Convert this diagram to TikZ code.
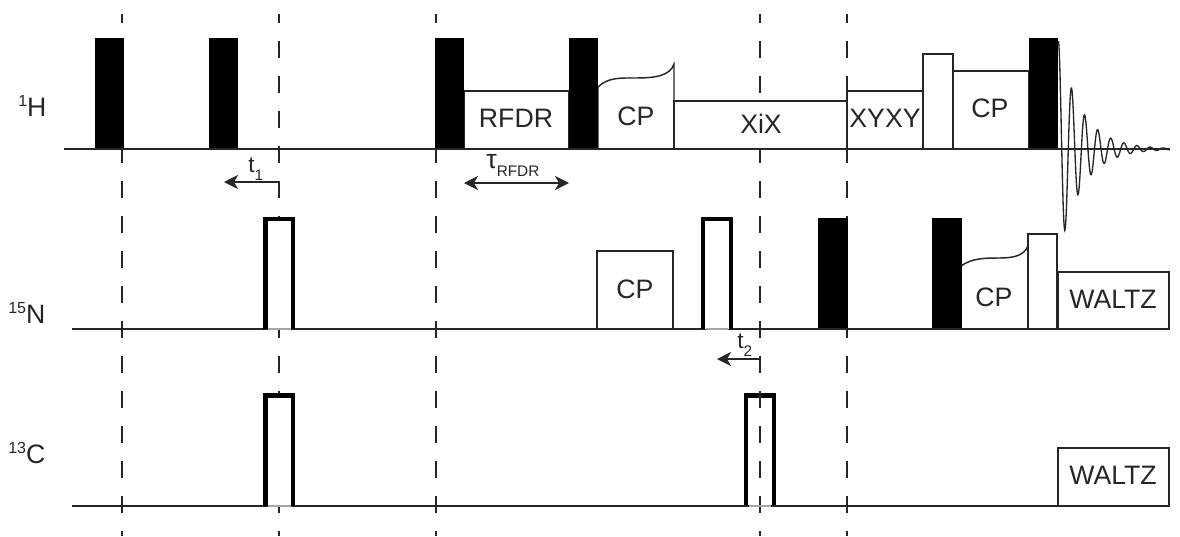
\documentclass[tikz,border=0pt]{standalone}
\usepackage{fontspec}
\setmainfont{Liberation Sans}
\usetikzlibrary{arrows.meta}
\definecolor{inkgray}{gray}{0.15}
\newcommand{\sublab}[1]{\raisebox{-6.5pt}{\fontsize{11.5}{11.5}\selectfont #1}}
\newcommand{\suplab}[1]{\raisebox{7.5pt}{\fontsize{12}{12}\selectfont #1}}
\tikzset{
	timeline/.style={dash pattern=on 12.75pt off 13.5pt,dash phase=6pt,line width=0.9pt,inkgray},
	channel/.style={line width=1.5pt,inkgray},
	hardpulse/.style={fill=black},
	softbox/.style={fill=white,draw=inkgray,line width=1.1pt},
	refocus/.style={draw=black,line width=3.3pt},
	gapline/.style={line width=1.5pt,black!35},
	marker/.style={line width=1pt,inkgray,{Stealth[length=10.5pt,width=10.5pt,inset=3pt]}-},
	bothmarker/.style={line width=1pt,inkgray,{Stealth[length=10.5pt,width=10.5pt,inset=3pt]}-{Stealth[length=10.5pt,width=10.5pt,inset=3pt]}},
	lab/.style={font=\fontsize{20}{20}\selectfont,text=inkgray,inner sep=0pt},
	sidelab/.style={lab,anchor=base west},
	smalllab/.style={font=\fontsize{17}{17}\selectfont,text=inkgray,inner sep=0pt,anchor=base west}
}
\begin{document}
\begin{tikzpicture}[x=0.75pt,y=-0.75pt]
	\useasboundingbox (0,0) rectangle (1180,536);
	% this one shows the line through it
	\draw[refocus] (746.2,506) -- (746.2,395.5) -- (773.7,395.5) -- (773.7,506);
	% time points
	\foreach \x in {122,279,436,760,847}
	\draw[timeline] (\x,14) -- (\x,536);
	% 1H channel
	\draw[softbox] (464,149) rectangle (569,91);
	\draw[softbox] (598,149) -- (598,87) .. controls (608,77) and (622,78) .. (635,78) .. controls (655,78) and (670,76) .. (674,64) -- (674,149);
	\draw[softbox] (674,149) rectangle (847,101);
	\draw[softbox] (847,149) rectangle (923,91);
	\draw[softbox] (923,149) rectangle (953,54);
	\draw[softbox] (953,149) rectangle (1029,71);
	\draw[line width=1pt,inkgray,samples=300,smooth,domain=1058.45:1170] plot (\x,{149+81*exp(-(\x-1065)/22.8)*cos((\x-1065)*27.48)});
	\foreach \x in {95,209,435,569,1029}
	\fill[hardpulse] (\x,38) rectangle (\x+29,149);
	\draw[channel] (64,149) -- (1170,149);
	% 15N channel
	\draw[softbox] (597,329) rectangle (673,251);
	\draw[softbox] (961,329) -- (961,266) .. controls (972,258) and (985,258) .. (1000,258) .. controls (1015,258) and (1024,255) .. (1028,246) -- (1028,329);
	\draw[softbox] (1028,329) rectangle (1057,234);
	\draw[softbox] (1058,329) rectangle (1169,272);
	\foreach \x in {818,932}
	\fill[hardpulse] (\x,218) rectangle (\x+29.6,329);
	\draw[channel] (72,329) -- (1170,329);
	\foreach \x in {265.5,703.2}
	{
	\draw[refocus,fill=white] (\x,329) -- (\x,219) -- (\x+27.5,219) -- (\x+27.5,329);
	\draw[gapline] (\x+2.5,329) -- (\x+25,329);
	}
	% 13C channel
	\draw[softbox] (1058,506) rectangle (1169,448);
	\draw[channel] (72,506) -- (1170,506);
	\draw[refocus,fill=white] (265.5,506) -- (265.5,395.5) -- (293,395.5) -- (293,506);
	\foreach \x in {265.5,746.2}
	\draw[gapline] (\x+2.5,506) -- (\x+25,506);
	% delays
	\coordinate (tonestart) at (279,182);
	\coordinate (toneend) at (224,182);
	\coordinate (ttwostart) at (760,359);
	\coordinate (ttwoend) at (717,359);
	\coordinate (rfdrleft) at (464,183);
	\coordinate (rfdrright) at (569,183);
	\draw[marker] (toneend) -- (tonestart);
	\draw[marker] (ttwoend) -- (ttwostart);
	\draw[bothmarker] (rfdrleft) -- (rfdrright);
	\node[smalllab] (tone) at (248,172) {t\sublab{1}};
	\node[smalllab] (ttwo) at (737,348) {t\sublab{2}};
	\node[sidelab] (taurfdr) at (486,168) {τ\sublab{RFDR}};
	% labels
	\node[sidelab] (hlabel) at (18,116) {\suplab{1}H};
	\node[sidelab] (nlabel) at (8,323) {\suplab{15}N};
	\node[sidelab] (clabel) at (8,463) {\suplab{13}C};
	\node[lab] (rfdr) at (516,118.5) {RFDR};
	\node[lab] (cpa) at (636,116) {CP};
	\node[lab] (xix) at (761,124) {XiX};
	\node[lab] (xyxy) at (885,118) {XYXY};
	\node[lab] (cpb) at (990,108) {CP};
	\node[lab] (cpc) at (635,289) {CP};
	\node[lab] (cpd) at (994,297) {CP};
	\node[lab] (waltzn) at (1113,299) {WALTZ};
	\node[lab] (waltzc) at (1113,475) {WALTZ};
\end{tikzpicture}
\end{document}
